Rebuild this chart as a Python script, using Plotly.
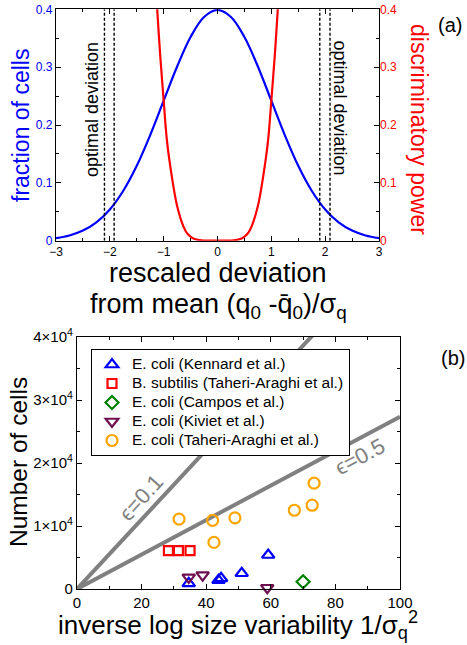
import plotly.graph_objects as go

# ---------------- data: panel (a) ----------------
dev_x = [-3.0, -2.75, -2.5, -2.25, -2.0, -1.75, -1.5, -1.25, -1.0, -0.75, -0.5, -0.25, 0.0,
         0.25, 0.5, 0.75, 1.0, 1.25, 1.5, 1.75, 2.0, 2.25, 2.5, 2.75, 3.0]
frac_cells = [0.0044, 0.0091, 0.0175, 0.0317, 0.054, 0.0863, 0.1295, 0.1826, 0.242, 0.3011,
              0.3521, 0.3867, 0.3989, 0.3867, 0.3521, 0.3011, 0.242, 0.1826, 0.1295, 0.0863,
              0.054, 0.0317, 0.0175, 0.0091, 0.0044]

disc_x = [-1.16, -1.12, -1.06, -1.0, -0.94, -0.85, -0.75, -0.63, -0.55, -0.45, -0.3, -0.15, 0.0,
          0.15, 0.3, 0.45, 0.55, 0.63, 0.75, 0.85, 0.94, 1.0, 1.06, 1.12, 1.16]
disc_power = [0.47, 0.40, 0.315, 0.242, 0.174, 0.112, 0.060, 0.024, 0.011, 0.004, 0.0006, 0.0, 0.0,
              0.0, 0.0006, 0.004, 0.011, 0.024, 0.060, 0.112, 0.174, 0.242, 0.315, 0.40, 0.47]

optimal_dev = [-2.1, -1.92, 1.9, 2.09]

# ---------------- data: panel (b) ----------------
kennard_x = [34.6, 43.8, 44.6, 51.0, 59.2]
kennard_y = [900, 1400, 1700, 2500, 5400]
bsub_x = [28.3, 31.4, 35.0]
bsub_y = [6100, 6100, 6100]
campos_x = [70.0]
campos_y = [1150]
kiviet_x = [34.6, 38.9, 58.9]
kiviet_y = [1850, 2200, 200]
taheri_x = [31.6, 42.0, 42.4, 48.9, 67.3, 72.8, 73.4]
taheri_y = [11100, 10900, 7400, 11300, 12500, 13300, 16800]

eps01_x = [0, 100]
eps01_y = [0, 55200]
eps05_x = [0, 100]
eps05_y = [0, 27350]

ytick_b_vals = [0, 10000, 20000, 30000, 40000]
ytick_b_text = ["0", "1×10<sup>4</sup>", "2×10<sup>4</sup>", "3×10<sup>4</sup>", "4×10<sup>4</sup>"]

FONT = "Liberation Sans, Arial, Helvetica, sans-serif"
BLUE = "#0000ff"
RED = "#ff0000"
GRAY = "#808080"

fig = go.Figure()

# panel (a)
fig.add_trace(go.Scatter(x=dev_x, y=frac_cells, mode="lines", line=dict(color=BLUE, width=2.2, shape="spline"),
                         xaxis="x", yaxis="y", showlegend=False))
fig.add_trace(go.Scatter(x=disc_x, y=disc_power, mode="lines", line=dict(color=RED, width=2.2, shape="spline"),
                         xaxis="x", yaxis="y2", showlegend=False))
for xv in optimal_dev:
    fig.add_trace(go.Scatter(x=[xv, xv], y=[0, 0.4], mode="lines",
                             line=dict(color="black", width=1.4, dash="3px,2px"),
                             xaxis="x", yaxis="y", showlegend=False))

# panel (b)
fig.add_trace(go.Scatter(x=eps01_x, y=eps01_y, mode="lines", line=dict(color=GRAY, width=4),
                         xaxis="x3", yaxis="y3", showlegend=False))
fig.add_trace(go.Scatter(x=eps05_x, y=eps05_y, mode="lines", line=dict(color=GRAY, width=4),
                         xaxis="x3", yaxis="y3", showlegend=False))

def pts(x, y, name, symbol, color, size=10):
    fig.add_trace(go.Scatter(x=x, y=y, mode="markers",
                             name="<span style='font-size:15.5px'>" + name + "</span>",
                             marker=dict(symbol=symbol, size=size, color=color,
                                         line=dict(color=color, width=2.2)),
                             xaxis="x3", yaxis="y3", cliponaxis=False))

pts(kennard_x, kennard_y, "E. coli (Kennard et al.)", "triangle-up-open", BLUE, 11)
pts(bsub_x, bsub_y, "B. subtilis (Taheri-Araghi et al.)", "square-open", RED, 9)
pts(campos_x, campos_y, "E. coli (Campos et al.)", "diamond-open", "#008000", 10)
pts(kiviet_x, kiviet_y, "E. coli (Kiviet et al.)", "triangle-down-open", "#6e1050", 11)
pts(taheri_x, taheri_y, "E. coli (Taheri-Araghi et al.)", "circle-open", "#ffa500", 11)

W, H = 467, 645
def px_x(p): return p / W
def px_y(p): return 1 - p / H

axis_common = dict(showline=True, linecolor="black", linewidth=1.3, mirror="ticks", ticks="inside",
                   ticklen=5, tickwidth=1, tickcolor="black", showgrid=False, zeroline=False,
                   automargin=False)

fig.update_layout(
    width=W, height=H, margin=dict(l=0, r=0, t=0, b=0, autoexpand=False),
    paper_bgcolor="white", plot_bgcolor="white",
    font=dict(family=FONT, color="black"),
    xaxis=dict(**axis_common, domain=[px_x(56), px_x(379)], range=[-3, 3], dtick=1,
               minor=dict(ticks="inside", ticklen=3, dtick=0.5, tickcolor="black"),
               tickfont=dict(size=12), anchor="y"),
    yaxis=dict(**axis_common, domain=[px_y(240.7), px_y(9.3)], range=[0, 0.4], dtick=0.1,
               minor=dict(ticks="inside", ticklen=3, dtick=0.05, tickcolor="black"),
               tickfont=dict(size=12, color=BLUE), anchor="x"),
    yaxis2=dict(overlaying="y", side="right", range=[0, 0.4], dtick=0.1, showgrid=False, zeroline=False,
                showline=False, ticks="", tickfont=dict(size=12, color=RED), anchor="x", automargin=False),
    xaxis3=dict(**axis_common, domain=[px_x(77), px_x(400)], range=[0, 100], dtick=20,
                minor=dict(ticks="inside", ticklen=3, dtick=10, tickcolor="black"),
                tickfont=dict(size=15), anchor="y3"),
    yaxis3=dict(**axis_common, domain=[px_y(589), px_y(337)], range=[0, 40000],
                tickvals=ytick_b_vals, ticktext=ytick_b_text,
                minor=dict(ticks="inside", ticklen=3, dtick=5000, tickcolor="black"),
                tickfont=dict(size=15), anchor="x3"),
    legend=dict(x=px_x(91), y=px_y(349), xanchor="left", yanchor="top",
                bgcolor="white", bordercolor="black", borderwidth=1,
                font=dict(size=12, color="black"), tracegroupgap=0, itemwidth=30),
)

def ann(text, x, y, size, color="black", angle=0, xref="paper", yref="paper"):
    return dict(text=text, x=x, y=y, xref=xref, yref=yref, showarrow=False, textangle=angle,
                xanchor="center", yanchor="middle", font=dict(size=size, color=color, family=FONT))

annotations = [
    # axis titles
    ann("rescaled deviation", px_x(218), px_y(273), 27),
    ann("from mean (q<sub>0</sub> -q̄<sub>0</sub>)/σ<sub>q</sub>", px_x(218), px_y(306), 27),
    ann("fraction of cells", px_x(21), px_y(126), 23, BLUE, -90),
    ann("discriminatory power", px_x(419), px_y(129), 23, RED, 90),
    ann("Number of cells", px_x(18), px_y(462), 24.5, "black", -90),
    ann("inverse log size variability 1/σ<sub>q</sub><sup>2</sup>", px_x(238), px_y(625), 26),
    # in-plot labels
    dict(text="optimal deviation", x=-2.33, y=0.226, xref="x", yref="y", showarrow=False,
         textangle=-90, font=dict(size=18, color="black")),
    dict(text="optimal deviation", x=2.28, y=0.23, xref="x", yref="y", showarrow=False,
         textangle=90, font=dict(size=18, color="black")),
    dict(text="ϵ=0.1", x=19.8, y=14600, xref="x3", yref="y3", showarrow=False,
         textangle=-48, font=dict(size=22, color=GRAY)),
    dict(text="ϵ=0.5", x=87.6, y=21100, xref="x3", yref="y3", showarrow=False,
         textangle=-28, font=dict(size=22, color=GRAY)),
    ann("(a)", px_x(450), px_y(25), 20),
    ann("(b)", px_x(453), px_y(358), 20),
]
fig.update_layout(annotations=annotations)

fig.write_html("out.html", config={"displayModeBar": False},
               post_script="document.body.style.margin='0';document.body.style.overflow='hidden';")
